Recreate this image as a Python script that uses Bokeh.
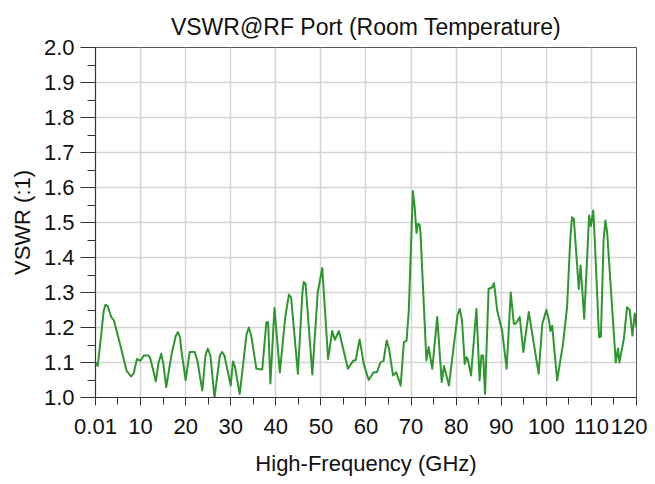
from bokeh.plotting import figure
from bokeh.models import FixedTicker, Range1d
from bokeh.embed import file_html
from bokeh.resources import INLINE

freq_ghz = [0.01, 0.5, 1.2, 1.8, 2.2, 2.7, 3.5, 4.1, 5.5, 6.9, 7.9, 8.5, 9.2, 10.0, 10.7, 11.8, 12.2,
            13.4, 14.0, 14.6, 15.0, 15.7, 16.9, 17.8, 18.3, 18.8, 19.0, 20.0, 20.9, 22.0, 22.6, 23.7,
            24.4, 24.9, 25.5, 26.4, 27.6, 28.1, 28.6, 30.0, 30.5, 30.9, 32.0, 33.5, 34.0, 34.5,
            35.7, 37.0, 37.9, 38.3, 38.8, 39.7, 40.9, 42.1, 42.9, 43.4, 44.9, 45.9, 46.2, 46.6,
            48.1, 49.3, 50.3, 51.6, 52.5, 53.1, 54.0, 56.0, 57.2, 57.7, 58.6, 59.5, 60.6, 61.7,
            62.4, 63.2, 63.9, 64.6, 65.1, 66.0, 66.7, 67.7, 68.4, 69.0, 69.5, 70.4, 70.8, 71.2,
            71.5, 71.9, 72.1, 73.4, 73.9, 74.7, 75.8, 76.8, 77.3, 78.4, 80.3, 80.8, 81.3, 81.9,
            82.3, 82.6, 83.3, 84.5, 85.2, 85.6, 86.0, 86.4, 87.2, 88.0, 88.4, 89.1, 90.2, 91.2,
            92.1, 92.8, 93.3, 94.1, 94.9, 96.1, 98.3, 99.1, 100.0, 100.6, 100.9, 101.3, 102.4,
            103.7, 104.6, 105.3, 105.7, 106.1, 107.2, 107.6, 108.4, 109.5, 109.9, 110.4, 110.6,
            111.7, 112.1, 112.7, 113.1, 113.5, 115.4, 115.9, 116.2, 117.2, 117.9, 118.5, 119.1,
            119.6, 120.0]
vswr = [1.10, 1.09, 1.17, 1.245, 1.265, 1.262, 1.23, 1.22, 1.15, 1.077, 1.06, 1.07, 1.11, 1.105, 1.12, 1.12, 1.11,
        1.046, 1.10, 1.125, 1.10, 1.03, 1.125, 1.175, 1.187, 1.17, 1.14, 1.05, 1.13, 1.13, 1.105, 1.02,
        1.12, 1.14, 1.12, 1.00, 1.12, 1.13, 1.12, 1.034, 1.103, 1.09, 1.01, 1.18, 1.20, 1.18,
        1.082, 1.08, 1.215, 1.215, 1.04, 1.256, 1.072, 1.23, 1.294, 1.285, 1.068, 1.30, 1.33, 1.325,
        1.066, 1.30, 1.37, 1.11, 1.19, 1.165, 1.19, 1.082, 1.106, 1.106, 1.166, 1.096, 1.05, 1.072,
        1.072, 1.10, 1.105, 1.163, 1.14, 1.063, 1.072, 1.034, 1.158, 1.162, 1.249, 1.59, 1.544, 1.47,
        1.496, 1.494, 1.468, 1.106, 1.144, 1.082, 1.23, 1.044, 1.09, 1.034, 1.235, 1.253, 1.22, 1.096,
        1.115, 1.108, 1.063, 1.253, 1.049, 1.12, 1.12, 1.01, 1.31, 1.315, 1.327, 1.249, 1.19, 1.082,
        1.30, 1.21, 1.212, 1.23, 1.13, 1.244, 1.068, 1.21, 1.25, 1.22, 1.19, 1.205, 1.049,
        1.153, 1.258, 1.45, 1.515, 1.51, 1.31, 1.377, 1.225, 1.52, 1.49, 1.534, 1.49,
        1.172, 1.174, 1.45, 1.506, 1.47, 1.10, 1.14, 1.10, 1.168, 1.258, 1.25, 1.177,
        1.24, 1.20]

title_text = "VSWR@RF Port (Room Temperature)"
x_ticks = [0.01, 10, 20, 30, 40, 50, 60, 70, 80, 90, 100, 110, 120]
x_minor = [5, 15, 25, 35, 45, 55, 65, 75, 85, 95, 105, 115]
y_ticks = [1.0, 1.1, 1.2, 1.3, 1.4, 1.5, 1.6, 1.7, 1.8, 1.9, 2.0]
y_minor = [1.05, 1.15, 1.25, 1.35, 1.45, 1.55, 1.65, 1.75, 1.85, 1.95]
y_labels = ["1.0", "1.1", "1.2", "1.3", "1.4", "1.5", "1.6", "1.7", "1.8", "1.9", "2.0"]

FONT = "Liberation Sans"

p = figure(width=647, height=478, output_backend="svg", toolbar_location=None,
           x_range=Range1d(0.01, 120), y_range=Range1d(1.0, 2.0),
           min_border_left=95, min_border_right=11, min_border_top=47, min_border_bottom=81,
           title=title_text)
p.background_fill_color = "white"
p.border_fill_color = "white"
p.outline_line_color = "#555555"
p.outline_line_width = 1

p.title.text_font = FONT
p.title.text_font_size = "23px"
p.title.text_font_style = "normal"
p.title.text_color = "#111111"
p.title.align = "center"
p.title.vertical_align = "top"
p.title.standoff = 12

p.line(freq_ghz, vswr, line_color="#2e962e", line_width=2, line_join="round")

xa = p.xaxis[0]
xa.ticker = FixedTicker(ticks=x_ticks, minor_ticks=x_minor)
xa.major_label_overrides = {0.01: "0.01"}
xa.axis_label = "High-Frequency (GHz)"
ya = p.yaxis[0]
ya.ticker = FixedTicker(ticks=y_ticks, minor_ticks=y_minor)
ya.major_label_overrides = {t: l for t, l in zip(y_ticks, y_labels)}
ya.axis_label = "VSWR (:1)"

for ax in (xa, ya):
    ax.axis_line_color = "#333333"
    ax.axis_line_width = 1.2
    ax.major_tick_line_color = "#333333"
    ax.minor_tick_line_color = "#333333"
    ax.major_tick_in = 0
    ax.minor_tick_in = 0
    ax.major_label_text_font = FONT
    ax.major_label_text_font_size = "22px"
    ax.major_label_text_color = "#111111"
    ax.axis_label_text_font = FONT
    ax.axis_label_text_font_size = "22px"
    ax.axis_label_text_font_style = "normal"
    ax.axis_label_text_color = "#111111"

xa.major_tick_out = 8
xa.minor_tick_out = 7
xa.major_label_standoff = 13
xa.axis_label_standoff = 14
ya.major_tick_out = 15
ya.minor_tick_out = 8
ya.major_label_standoff = 6
ya.axis_label_standoff = 6

p.xgrid.ticker = FixedTicker(ticks=x_ticks)
p.ygrid.ticker = FixedTicker(ticks=y_ticks)
p.grid.grid_line_color = "#d4d4d4"
p.grid.grid_line_width = 1.5

open("out.html", "w").write(file_html(p, INLINE))
